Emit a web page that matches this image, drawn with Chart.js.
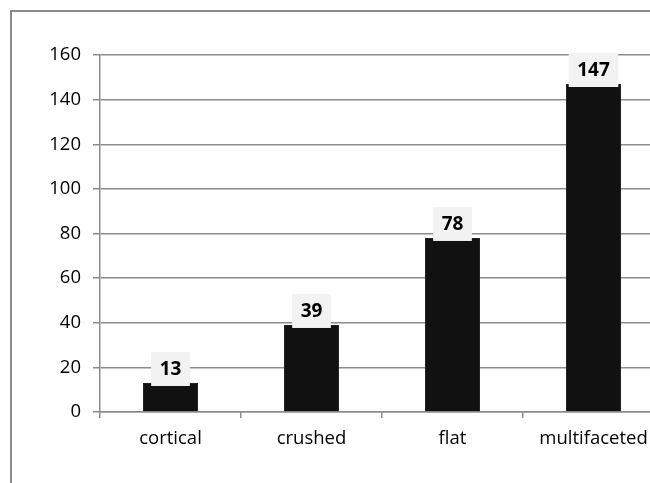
<!DOCTYPE html>
<html>
<head>
<meta charset="utf-8">
<script src="https://cdn.jsdelivr.net/npm/chart.js@4"></script>
<style>
  html, body { margin: 0; padding: 0; overflow: hidden; background: #fff; }
  #frame {
    position: absolute; left: 10px; top: 10px;
    width: 700px; height: 520px;
    border: 2px solid #8a8a8a;
  }
  #myChart { position: absolute; left: 0; top: 0; }
</style>
</head>
<body>
<div id="frame"></div>
<canvas id="myChart" width="680" height="483"></canvas>
<script>
const categories = ["cortical", "crushed", "flat", "multifaceted"];
const counts = [13, 39, 78, 147];
const yTicks = [0, 20, 40, 60, 80, 100, 120, 140, 160];

Chart.defaults.font.family = '"Open Sans", sans-serif';
Chart.defaults.font.size = 18.5;
Chart.defaults.color = "#000";

// grey value boxes above bars, like the Excel data labels
const valueBoxes = {
  id: "valueBoxes",
  afterDatasetsDraw(chart) {
    const ctx = chart.ctx;
    const meta = chart.getDatasetMeta(0);
    ctx.save();
    ctx.font = 'bold 19px "Open Sans", sans-serif';
    meta.data.forEach((bar, i) => {
      const text = String(counts[i]);
      const w = ctx.measureText(text).width + 17;
      const h = 34;
      const x = bar.x - w / 2;
      const y = bar.y - h + 3;
      ctx.fillStyle = "#f2f2f2";
      ctx.fillRect(x, y, w, h);
      ctx.fillStyle = "#000";
      ctx.textAlign = "center";
      ctx.textBaseline = "middle";
      ctx.fillText(text, bar.x, y + h / 2 + 1);
    });
    ctx.restore();
  },
};

const ctx = document.getElementById("myChart");
const myChart = new Chart(ctx, {
  type: "bar",
  data: {
    labels: categories,
    datasets: [
      {
        data: counts,
        backgroundColor: "#111111",
        borderColor: "#222222",
        borderWidth: 1,
        categoryPercentage: 1,
        barPercentage: 0.39,
      },
    ],
  },
  options: {
    responsive: false,
    animation: false,
    layout: { padding: { top: 55, right: 16, bottom: 0, left: 0 } },
    plugins: {
      legend: { display: false },
      tooltip: { enabled: false },
    },
    scales: {
      x: {
        offset: true,
        grid: {
          offset: true,
          drawOnChartArea: false,
          drawTicks: true,
          tickLength: 6,
          color: "#8c8c8c",
          lineWidth: 1.5,
        },
        border: { color: "#8c8c8c", width: 1.5 },
        ticks: { padding: 10 },
        afterFit(scale) {
          scale.height = 71;
        },
      },
      y: {
        min: 0,
        max: 160,
        afterBuildTicks(scale) {
          scale.ticks = yTicks.map((v) => ({ value: v }));
        },
        grid: {
          color: "#8c8c8c",
          lineWidth: 1.5,
          tickLength: 7,
        },
        border: { color: "#8c8c8c", width: 1.5 },
        ticks: { padding: 12 },
        afterFit(scale) {
          scale.width = 100;
        },
      },
    },
  },
  plugins: [valueBoxes],
});
</script>
</body>
</html>
